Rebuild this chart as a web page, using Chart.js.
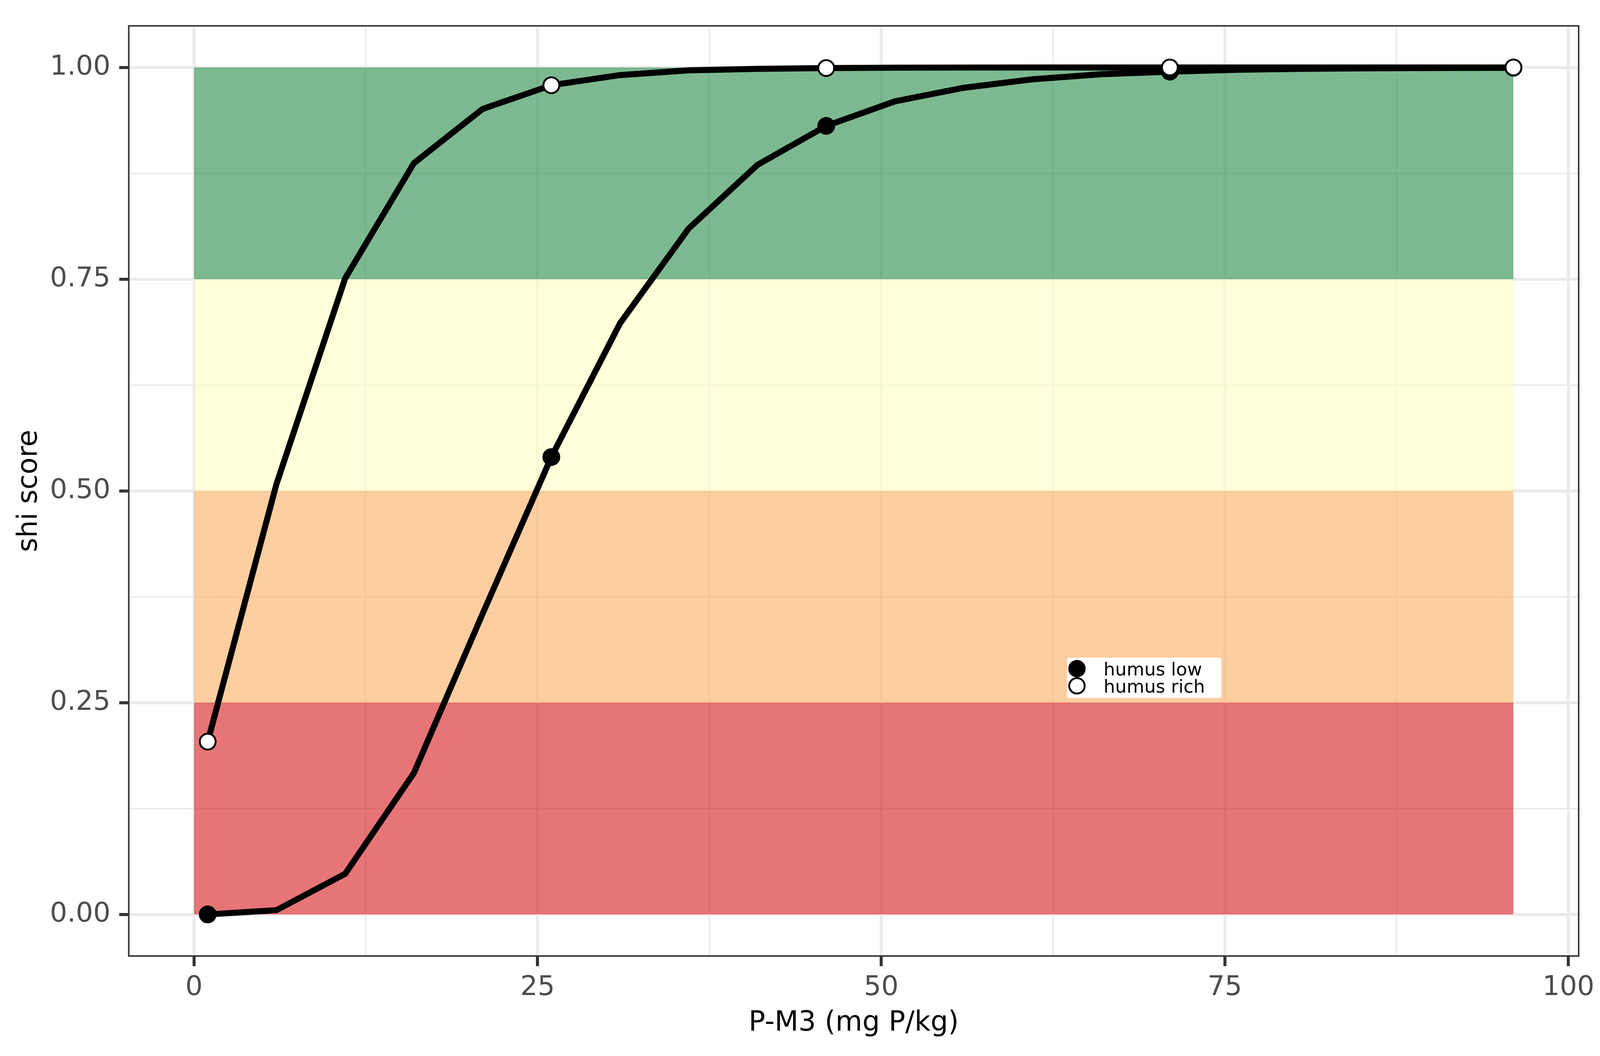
<!DOCTYPE html>
<html>
<head>
<meta charset="utf-8">
<title>shi score vs P-M3</title>
<script src="https://cdn.jsdelivr.net/npm/chart.js@4.4.1/dist/chart.umd.min.js"></script>
<style>
  html, body { margin: 0; padding: 0; background: #ffffff; overflow: hidden; }
  canvas { display: block; }
</style>
</head>
<body>
<canvas id="shi-chart"></canvas>
<script>
// P-M3 (mg P/kg) at which the curves were evaluated
const pM3 = [1, 6, 11, 16, 21, 26, 31, 36, 41, 46, 51, 56, 61, 66, 71, 76, 81, 86, 91, 96];
const humusLow = [0.000, 0.005, 0.048, 0.167, 0.355, 0.540, 0.698, 0.810, 0.885, 0.931,
                  0.960, 0.976, 0.986, 0.992, 0.995, 0.9973, 0.9984, 0.9990, 0.9994, 0.9996];
const humusRich = [0.204, 0.508, 0.751, 0.887, 0.951, 0.979, 0.991, 0.9966, 0.9983, 0.9993,
                   0.9997, 0.9999, 1.000, 1.000, 1.000, 1.000, 1.000, 1.000, 1.000, 1.000];
const markerAt = [1, 26, 46, 71, 96];
const seriesNames = ['humus low', 'humus rich'];

// score classes drawn behind the curves
const bandEdges = [0, 96];
const bandLimits = [0, 0.25, 0.5, 0.75, 1];
const bandColors = ['rgba(215,25,28,0.6)', 'rgba(253,174,97,0.6)',
                    'rgba(255,255,191,0.6)', 'rgba(38,138,70,0.6)'];

const xTicks = [0, 12.5, 25, 37.5, 50, 62.5, 75, 87.5, 100];
const xMajor = [0, 25, 50, 75, 100];
const xLabels = ['0', '25', '50', '75', '100'];
const yTicks = [0, 0.125, 0.25, 0.375, 0.5, 0.625, 0.75, 0.875, 1];
const yMajor = [0, 0.25, 0.5, 0.75, 1];
const yLabels = ['0.00', '0.25', '0.50', '0.75', '1.00'];

const FONT = 'DejaVu Sans';

// sizes below are for a 4375 x 2703 page; scale them to the real viewport
const W = window.innerWidth, H = window.innerHeight;
const kx = W / 4375, ky = H / 2703, km = Math.sqrt(kx * ky);
const sx = (v) => v * kx, sy = (v) => v * ky, sm = (v) => v * km;

const canvas = document.getElementById('shi-chart');
canvas.width = W;
canvas.height = H;

const toPoints = (ys) => pM3.map((x, i) => ({ x: x, y: ys[i] }));
const markerRadius = (ctx) => markerAt.includes(pM3[ctx.dataIndex]) ? sm(21) : 0;

const datasets = [];
for (let i = 0; i < bandColors.length; i++) {
    datasets.push({
        type: 'line',
        data: bandEdges.map(x => ({ x: x, y: bandLimits[i + 1] })),
        fill: { value: bandLimits[i] },
        backgroundColor: bandColors[i],
        borderWidth: 0,
        pointRadius: 0,
        order: 10
    });
}
datasets.push({
    label: seriesNames[0],
    data: toPoints(humusLow),
    borderColor: '#000000',
    borderWidth: sm(16),
    borderJoinStyle: 'round',
    pointRadius: markerRadius,
    pointBackgroundColor: '#000000',
    pointBorderColor: '#000000',
    pointBorderWidth: sm(5),
    fill: false,
    order: 2
});
datasets.push({
    label: seriesNames[1],
    data: toPoints(humusRich),
    borderColor: '#000000',
    borderWidth: sm(16),
    borderJoinStyle: 'round',
    pointRadius: markerRadius,
    pointBackgroundColor: '#ffffff',
    pointBorderColor: '#000000',
    pointBorderWidth: sm(5),
    fill: false,
    order: 1
});

const panelBorder = {
    id: 'panelBorder',
    afterDatasetsDraw(chart) {
        const { ctx, chartArea: a } = chart;
        ctx.save();
        ctx.strokeStyle = '#333333';
        ctx.lineWidth = sm(4);
        ctx.strokeRect(a.left + sm(2), a.top + sm(2), a.right - a.left - sm(4), a.bottom - a.top - sm(4));
        ctx.restore();
    }
};

const insideLegend = {
    id: 'insideLegend',
    afterDraw(chart) {
        const { ctx, chartArea: a } = chart;
        const left = a.left + 0.647 * (a.right - a.left);
        const top = a.top + 0.679 * (a.bottom - a.top);
        ctx.save();
        ctx.fillStyle = '#ffffff';
        ctx.beginPath();
        ctx.roundRect(left, top, sx(422), sy(103), sm(5));
        ctx.fill();
        const fills = ['#000000', '#ffffff'];
        seriesNames.forEach((name, i) => {
            const cy = top + sy(28 + i * 44);
            ctx.beginPath();
            ctx.arc(left + sx(27), cy, sm(20.5), 0, Math.PI * 2);
            ctx.fillStyle = fills[i];
            ctx.fill();
            ctx.lineWidth = sm(5);
            ctx.strokeStyle = '#000000';
            ctx.stroke();
            ctx.fillStyle = '#000000';
            ctx.font = sm(48) + 'px "' + FONT + '"';
            ctx.textBaseline = 'alphabetic';
            ctx.textAlign = 'left';
            ctx.fillText(name, left + sx(100), top + sy(45 + i * 44));
        });
        ctx.restore();
    }
};

const majorOf = (list) => (ctx) => ctx.tick && list.includes(ctx.tick.value);

new Chart(canvas, {
    type: 'line',
    data: { datasets: datasets },
    plugins: [panelBorder, insideLegend],
    options: {
        responsive: false,
        animation: false,
        events: [],
        layout: { padding: { top: sy(46), right: sx(48), left: 0, bottom: 0 } },
        plugins: {
            legend: { display: false },
            tooltip: { enabled: false }
        },
        scales: {
            x: {
                type: 'linear',
                min: -4.8,
                max: 100.8,
                afterBuildTicks: (s) => { s.ticks = xTicks.map(v => ({ value: v })); },
                afterFit: (s) => { s.height = sy(254); },
                border: { display: false },
                grid: {
                    color: '#EBEBEB',
                    lineWidth: (c) => majorOf(xMajor)(c) ? sm(8) : sm(4),
                    tickLength: sy(24),
                    tickWidth: sm(8),
                    tickColor: (c) => majorOf(xMajor)(c) ? '#333333' : 'rgba(0,0,0,0)'
                },
                ticks: {
                    autoSkip: false,
                    maxRotation: 0,
                    padding: sy(14),
                    color: '#4D4D4D',
                    font: { family: FONT, size: sm(72) },
                    callback: (v) => { const i = xMajor.indexOf(v); return i >= 0 ? xLabels[i] : ''; }
                },
                title: {
                    display: true,
                    text: 'P-M3 (mg P/kg)',
                    color: '#000000',
                    font: { family: FONT, size: sm(73) },
                    padding: { top: 0, bottom: sy(41) }
                }
            },
            y: {
                type: 'linear',
                min: -0.05,
                max: 1.05,
                afterBuildTicks: (s) => { s.ticks = yTicks.map(v => ({ value: v })); },
                afterFit: (s) => { s.width = sx(350); },
                border: { display: false },
                grid: {
                    color: '#EBEBEB',
                    lineWidth: (c) => majorOf(yMajor)(c) ? sm(8) : sm(4),
                    tickLength: sx(24),
                    tickWidth: sm(8),
                    tickColor: (c) => majorOf(yMajor)(c) ? '#333333' : 'rgba(0,0,0,0)'
                },
                ticks: {
                    autoSkip: false,
                    padding: sx(24),
                    color: '#4D4D4D',
                    font: { family: FONT, size: sm(72) },
                    callback: (v) => { const i = yMajor.indexOf(v); return i >= 0 ? yLabels[i] : ''; }
                },
                title: {
                    display: true,
                    text: 'shi score',
                    color: '#000000',
                    font: { family: FONT, size: sm(73) },
                    padding: { top: sx(36), bottom: 0 }
                }
            }
        }
    }
});
</script>
</body>
</html>
